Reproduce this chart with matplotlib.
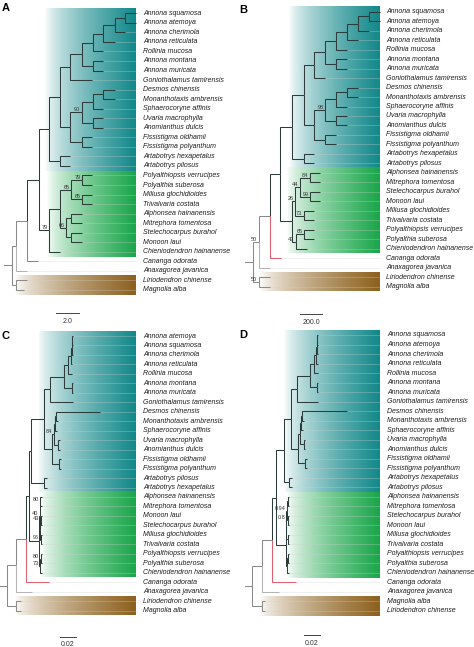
import numpy as np
import matplotlib
matplotlib.use("Agg")
import matplotlib.pyplot as plt
from matplotlib.colors import LinearSegmentedColormap

plt.rcParams['font.family'] = ['Liberation Sans', 'DejaVu Sans']

# trees in newick form: branch lengths in each panel's own units, node labels = support
tree_a = (
    "((((((((((((Annona squamosa:0.96,Annona atemoya:0.96):0.87,Annona cherimola:0.87):1.04,"
    "Annona reticulata:1.04):0.87,Rollinia mucosa:0.87):0.96,"
    "(Annona montana:0.87,Annona muricata:0.87):0.96):1.04,Goniothalamus tamirensis:1.91):0.87,"
    "((((Desmos chinensis:1.04,Monanthotaxis ambrensis:1.04):0.87,Sphaerocoryne affinis:0.87):0.96,"
    "(Uvaria macrophylla:0.87,Anomianthus dulcis:0.87):0.96)90:1.04,"
    "(Fissistigma oldhamii:0.87,Fissistigma polyanthum:0.87):1.04):0.87):0.96,"
    "(Artabotrys hexapetalus:0.87,Artabotrys pilosus:0.87):0.96):0.87,"
    "((((Polyalthiopsis verrucipes:0.87,Polyalthia suberosa:0.87)79:0.96,"
    "(Miliusa glochidioides:0.87,Trivalvaria costata:0.87)65:0.96)65:0.96,"
    "((Alphonsea hainanensis:0.96,Mitrephora tomentosa:0.96):0.43,"
    "(Stelechocarpus burahol:0.96,Monoon laui:0.96):0.43)66:0.52):0.96,"
    "Chieniodendron hainanense:0.96)79:0.87):1.04,"
    "Cananga odorata:0.96):0.96,Anaxagorea javanica:0.96):0.35,"
    "(Liriodendron chinense:0.96,Magnolia alba:0.7):0.35);"
)

tree_b = (
    "((((((((((((Annona squamosa:100,Annona atemoya:100):100,Annona cherimola:100):100,"
    "Annona reticulata:100):100,Rollinia mucosa:100):100,"
    "(Annona montana:100,Annona muricata:100):100):100,Goniothalamus tamirensis:100):91,"
    "((((Desmos chinensis:100,Monanthotaxis ambrensis:100):100,Sphaerocoryne affinis:100):100,"
    "(Uvaria macrophylla:100,Anomianthus dulcis:100):100)98:100,"
    "(Fissistigma oldhamii:100,Fissistigma polyanthum:100):100):91):109,"
    "(Artabotrys hexapetalus:91,Artabotrys pilosus:91):109):109,"
    "((((Alphonsea hainanensis:91,Mitrephora tomentosa:91)84:91,"
    "(Stelechocarpus burahol:91,Monoon laui:91)99:91)44:45,"
    "(Miliusa glochidioides:91,Trivalvaria costata:91)73:82)26:27,"
    "((Polyalthiopsis verrucipes:91,Polyalthia suberosa:91)65:73,"
    "Chieniodendron hainanense:100)43:36):109):91,"
    "Cananga odorata:100):100,Anaxagorea javanica:100)50:55,"
    "(Liriodendron chinense:100,Magnolia alba:100)50:55);"
)

tree_c = (
    "((((((((((((Annona atemoya:0.0008,Annona squamosa:0.0008):0.0004,Annona cherimola:0.0012):0.0009,"
    "Annona reticulata:0.0016):0.0034,Rollinia mucosa:0.0049):0.005,"
    "(Annona montana:0.001,Annona muricata:0.001):0.01):0.0175,Goniothalamus tamirensis:0.0284):0.0071,"
    "((((Desmos chinensis:0.055,Monanthotaxis ambrensis:0.0019):0.0013,Sphaerocoryne affinis:0.0025):0.0013,"
    "(Uvaria macrophylla:0.0021,Anomianthus dulcis:0.0021):0.0054)84:0.0025,"
    "(Fissistigma oldhamii:0.0019,Fissistigma polyanthum:0.0019):0.0088):0.0096):0.0173,"
    "(Artabotrys pilosus:0.003,Artabotrys hexapetalus:0.003):0.0173):0.0019,"
    "(((Alphonsea hainanensis:0.0021,Mitrephora tomentosa:0.0021)80:0.0008,"
    "((Monoon laui:0.0019,Stelechocarpus burahol:0.0019)43:0.0006,"
    "(Miliusa glochidioides:0.0019,Trivalvaria costata:0.0019)96:0.0006):0.0004)40:0.0005,"
    "((Polyalthiopsis verrucipes:0.0019,Polyalthia suberosa:0.0019)80:0.0006,"
    "Chieniodendron hainanense:0.0025)73:0.0009):0.0129):0.0038,"
    "Cananga odorata:0.0288):0.0129,Anaxagorea javanica:0.02):0.0113,"
    "(Liriodendron chinense:0.006,Magnolia alba:0.006):0.0113);"
)

tree_d = (
    "((((((((((((Annona squamosa:0.0009,Annona atemoya:0.0009):0.0006,Annona cherimola:0.0015):0.0016,"
    "Annona reticulata:0.0031):0.0025,Rollinia mucosa:0.0056):0.0044,"
    "(Annona montana:0.0013,Annona muricata:0.0013):0.0088):0.0163,Goniothalamus tamirensis:0.0263):0.0075,"
    "((((Desmos chinensis:0.0563,Monanthotaxis ambrensis:0.0019):0.0013,Sphaerocoryne affinis:0.0025):0.0019,"
    "(Uvaria macrophylla:0.0019,Anomianthus dulcis:0.0019):0.005):0.0019,"
    "(Fissistigma oldhamii:0.0019,Fissistigma polyanthum:0.0019):0.0088):0.0088):0.0091,"
    "(Artabotrys hexapetalus:0.0044,Artabotrys pilosus:0.0044):0.0066):0.0096,"
    "((((Alphonsea hainanensis:0.0019,Mitrephora tomentosa:0.0019):0.0009,"
    "(Stelechocarpus burahol:0.0019,Monoon laui:0.0019)0.8:0.0009)0.94:0.0006,"
    "(Miliusa glochidioides:0.0019,Trivalvaria costata:0.0019):0.0015):0.0004,"
    "((Polyalthiopsis verrucipes:0.0019,Polyalthia suberosa:0.0019):0.0009,"
    "Chieniodendron hainanense:0.0028):0.001):0.0125):0.005,"
    "Cananga odorata:0.03):0.0125,Anaxagorea javanica:0.0213):0.0125,"
    "(Magnolia alba:0.0038,Liriodendron chinense:0.0038):0.0125);"
)

scale_lengths = [2.0, 200.0, 0.02, 0.02]
scale_labels = ['2.0', '200.0', '0.02', '0.02']
panel_letters = ['A', 'B', 'C', 'D']

# clade shading: first row, last row, colour
clade_rows = [(1, 17, '#12888a'), (18, 26, '#1aa64a'), (29, 30, '#8d611e')]

# page layout in pixels (474 x 647)
layouts = [
    dict(ax=(0, 0, 237, 323), root=12, ppu=11.5, row1=13.3, step=9.54, lab=143,
         box_l=[45, 47, 15], box_r=136, stub=8, sb=(56, 313), letter=(2, 8)),
    dict(ax=(237, 0, 237, 323), root=253, ppu=0.11, row1=11.7, step=9.48, lab=386,
         box_l=[289, 287, 260], box_r=380, stub=8, sb=(300, 314), letter=(239, 10)),
    dict(ax=(0, 323, 237, 324), root=6.7, ppu=800, row1=336, step=9.47, lab=143,
         box_l=[38, 41, 15], box_r=136, stub=6.7, sb=(60, 636.5), letter=(2, 336)),
    dict(ax=(237, 323, 237, 324), root=252, ppu=800, row1=335, step=9.51, lab=387,
         box_l=[284, 287, 260], box_r=380, stub=7, sb=(304, 635), letter=(239, 335)),
]

W, H = 474, 647


def parse_newick(s):
    pos = 0

    def read():
        nonlocal pos
        kids = []
        if s[pos] == '(':
            pos += 1
            kids.append(read())
            while s[pos] == ',':
                pos += 1
                kids.append(read())
            pos += 1
        start = pos
        while s[pos] not in ':,);':
            pos += 1
        name = s[start:pos]
        blen = 0.0
        if s[pos] == ':':
            pos += 1
            start = pos
            while s[pos] not in ',);':
                pos += 1
            blen = float(s[start:pos])
        return {'name': name, 'len': blen, 'kids': kids}

    return read()


def place(node, x, tips):
    node['x'] = x
    if node['kids']:
        for k in node['kids']:
            place(k, x + k['len'], tips)
        node['y'] = np.mean([k['y'] for k in node['kids']])
    else:
        tips.append(node)
        node['y'] = len(tips)


def edge_colour(node, level):
    if node['name'] == 'Cananga odorata':
        return '#e0606e'
    if node['name'] == 'Anaxagorea javanica':
        return '#b4b4b4'
    if level <= 2:
        return '#8a8a8a'
    return '#2e3b3b'


def draw_edges(ax, node, level):
    for k in node['kids']:
        ax.plot([node['x'], node['x'], k['x']], [node['y'], k['y'], k['y']],
                color=edge_colour(k, level + 1), lw=0.75, zorder=3,
                solid_capstyle='butt', solid_joinstyle='miter')
        draw_edges(ax, k, level + 1)
        if k['kids'] and k['name']:
            ax.annotate(k['name'], (k['x'], k['y']), xytext=(-1.2, 1.8),
                        textcoords='offset points', ha='right', va='center',
                        fontsize=4, color='#333333', zorder=4)


fig = plt.figure(figsize=(W / 100, H / 100), dpi=100)
fig.patch.set_facecolor('white')

trees = [tree_a, tree_b, tree_c, tree_d]
for tree_str, lay, slen, slab, letter in zip(trees, layouts, scale_lengths,
                                             scale_labels, panel_letters):
    x0, y0, w, h = lay['ax']
    ax = fig.add_axes([x0 / W, 1 - (y0 + h) / H, w / W, h / H])
    ax.axis('off')

    def px2x(px, lay=lay):
        return (px - lay['root']) / lay['ppu']

    def px2row(py, lay=lay):
        return 1 + (py - lay['row1']) / lay['step']

    root = parse_newick(tree_str)
    tips = []
    place(root, 0.0, tips)

    # gradient boxes, white on the left to the clade colour on the right
    grad = (np.linspace(0, 1, 256) ** 0.7).reshape(1, -1)
    for (r0, r1, col), bl in zip(clade_rows, lay['box_l']):
        cm = LinearSegmentedColormap.from_list('g', ['#ffffff', col])
        ax.imshow(grad, cmap=cm, aspect='auto', interpolation='bilinear', vmin=0, vmax=1,
                  extent=(px2x(bl), px2x(lay['box_r']), r1 + 0.5, r0 - 0.5), zorder=0)

    # faint guide lines from tips to the labels
    for t in tips:
        ax.plot([t['x'], px2x(lay['box_r'])], [t['y'], t['y']], color='#d0d0d0',
                lw=0.4, alpha=0.55, zorder=1)
        ax.text(px2x(lay['lab']), t['y'], t['name'], fontsize=5, style='italic',
                ha='left', va='center', color='#1e1e1e')

    # root stub and branches
    ax.plot([-lay['stub'] / lay['ppu'], 0], [root['y'], root['y']], color='#8a8a8a',
            lw=0.75, zorder=3)
    draw_edges(ax, root, 0)

    # scale bar
    sx, sy = lay['sb']
    ax.plot([px2x(sx), px2x(sx) + slen], [px2row(sy)] * 2, color='#444444', lw=0.7)
    ax.text(px2x(sx) + slen / 2, px2row(sy + 8.5), slab, fontsize=5, ha='center',
            va='center', color='#333333')

    ax.set_xlim(px2x(x0), px2x(x0 + w))
    ax.set_ylim(px2row(y0 + h), px2row(y0))

    lx, ly = lay['letter']
    fig.text(lx / W, 1 - ly / H, letter, fontsize=8, fontweight='bold',
             ha='left', va='center')

fig.savefig('out.png', dpi=100, facecolor='white')
